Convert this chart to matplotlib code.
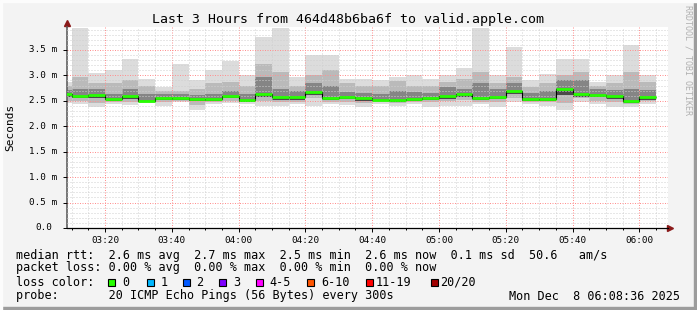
import numpy as np
import pandas as pd
import matplotlib
matplotlib.use("Agg")
import matplotlib.pyplot as plt
from matplotlib.ticker import FixedLocator, MultipleLocator, NullFormatter
from matplotlib.patches import Rectangle

# 5 minute steps, each value belongs to the step ending at that time
step_end = pd.date_range("2025-12-08 03:10", "2025-12-08 06:05", freq="5min")

# round trip times in ms
rtt_max = [2.87, 3.93, 3.04, 3.10, 3.33, 2.93, 2.77, 3.22, 2.91, 3.10, 3.28, 3.01,
           3.75, 3.93, 2.97, 3.40, 3.40, 2.93, 2.93, 2.90, 2.97, 3.01, 2.93, 3.01,
           3.14, 3.93, 3.00, 3.56, 2.90, 3.02, 3.33, 3.33, 2.87, 3.01, 3.60, 3.00]
rtt_p90 = [2.80, 2.97, 2.84, 2.84, 2.90, 2.80, 2.70, 2.70, 2.74, 2.84, 2.87, 2.80,
           3.23, 3.06, 2.80, 3.00, 3.10, 2.84, 2.80, 2.80, 2.88, 2.80, 2.80, 2.87,
           2.93, 3.06, 2.84, 2.97, 2.77, 2.84, 3.00, 3.06, 2.80, 2.84, 3.06, 2.87]
rtt_q75 = [2.72, 2.74, 2.74, 2.64, 2.74, 2.64, 2.64, 2.64, 2.62, 2.64, 2.70, 2.64,
           2.97, 2.74, 2.70, 2.84, 2.80, 2.68, 2.66, 2.64, 2.70, 2.68, 2.66, 2.77,
           2.74, 2.84, 2.74, 2.84, 2.66, 2.70, 2.90, 2.90, 2.74, 2.72, 2.74, 2.72]
rtt_median = [2.63, 2.60, 2.61, 2.54, 2.59, 2.50, 2.55, 2.55, 2.54, 2.54, 2.60, 2.51,
              2.63, 2.57, 2.57, 2.67, 2.55, 2.57, 2.55, 2.52, 2.52, 2.54, 2.55, 2.59,
              2.63, 2.55, 2.58, 2.70, 2.54, 2.54, 2.74, 2.64, 2.62, 2.59, 2.49, 2.57]
rtt_q25 = [2.58, 2.55, 2.56, 2.50, 2.54, 2.47, 2.51, 2.51, 2.49, 2.50, 2.55, 2.48,
           2.57, 2.52, 2.52, 2.62, 2.51, 2.53, 2.50, 2.49, 2.48, 2.50, 2.51, 2.54,
           2.58, 2.51, 2.53, 2.63, 2.50, 2.49, 2.62, 2.58, 2.57, 2.54, 2.45, 2.52]
rtt_p10 = [2.50, 2.50, 2.45, 2.48, 2.48, 2.47, 2.47, 2.50, 2.42, 2.48, 2.50, 2.47,
           2.50, 2.48, 2.48, 2.55, 2.48, 2.48, 2.46, 2.47, 2.46, 2.48, 2.47, 2.50,
           2.52, 2.48, 2.47, 2.55, 2.48, 2.47, 2.45, 2.55, 2.50, 2.47, 2.44, 2.50]
rtt_min = [2.45, 2.44, 2.37, 2.44, 2.42, 2.45, 2.40, 2.47, 2.32, 2.44, 2.45, 2.44,
           2.40, 2.40, 2.44, 2.40, 2.44, 2.42, 2.37, 2.44, 2.40, 2.44, 2.37, 2.40,
           2.40, 2.44, 2.37, 2.47, 2.44, 2.40, 2.32, 2.47, 2.44, 2.37, 2.37, 2.44]

xtick_labels = ["03:20", "03:40", "04:00", "04:20", "04:40", "05:00", "05:20", "05:40", "06:00"]
ytick_values = [0.0, 0.5, 1.0, 1.5, 2.0, 2.5, 3.0, 3.5]
ytick_labels = ["0.0", "0.5 m", "1.0 m", "1.5 m", "2.0 m", "2.5 m", "3.0 m", "3.5 m"]

loss_labels = ["0", "1", "2", "3", "4-5", "6-10", "11-19", "20/20"]
loss_colors = ["#26ff00", "#00b8ff", "#0059ff", "#7e00ff", "#ff00ff", "#ff5500", "#ff0000", "#a10000"]

stats_rtt = "median rtt:  2.6 ms avg  2.7 ms max  2.5 ms min  2.6 ms now  0.1 ms sd  50.6   am/s"
stats_loss = "packet loss: 0.00 % avg  0.00 % max  0.00 % min  0.00 % now"
probe = "probe:       20 ICMP Echo Pings (56 Bytes) every 300s"
stamp = "Mon Dec  8 06:08:36 2025"
title = "Last 3 Hours from 464d48b6ba6f to valid.apple.com"

W, H = 697, 310
mono = "DejaVu Sans Mono"
plt.rcParams["font.family"] = mono


def fx(x):
    return x / W


def fy(y):
    return 1 - y / H


minutes = step_end.hour * 60 + step_end.minute
edges = np.concatenate([[minutes[0] - 5], minutes]).astype(float)
t_now = 6 * 60 + 8 + 36 / 60
t_start = t_now - 180

fig = plt.figure(figsize=(W / 100, H / 100), dpi=100, facecolor="#f3f3f3")
ax = fig.add_axes([fx(67), fy(228), fx(668) - fx(67), (228 - 27) / H])
ax.set_facecolor("white")

# smoke, light outside to dark near the median
ax.stairs(rtt_max, edges, baseline=rtt_min, fill=True, color="#dcdcdc", lw=0)
ax.stairs(rtt_p90, edges, baseline=rtt_p10, fill=True, color="#bababa", lw=0)
ax.stairs(rtt_q75, edges, baseline=rtt_q25, fill=True, color="#858585", lw=0)
ax.stairs(rtt_median, edges, baseline=rtt_q25, fill=True, color="#4a4a4a", lw=0)

# median
ax.stairs(rtt_median, edges, baseline=None, color="black", lw=0.8, zorder=3)
ax.hlines(rtt_median, edges[:-1], edges[1:], color=loss_colors[0], lw=2.0, zorder=4)

ax.set_xlim(t_start, t_now)
ax.set_ylim(0, 3.95)

ax.xaxis.set_minor_locator(MultipleLocator(5))
ax.set_xticks(np.arange(200, 361, 20))
ax.set_xticklabels(xtick_labels, fontsize=6.7)
ax.yaxis.set_major_locator(FixedLocator(ytick_values))
ax.yaxis.set_minor_locator(MultipleLocator(0.1))
ax.yaxis.set_major_formatter(NullFormatter())
for v, lab in zip(ytick_values, ytick_labels):
    ax.text(-23.5 / 601, v, lab, transform=ax.get_yaxis_transform(),
            ha="center", va="center", fontsize=6.7)

ax.set_axisbelow(False)
ax.grid(which="minor", color="#d0d0d0", lw=0.72, ls=(0, (1, 2)))
ax.grid(which="major", color="#ff9090", lw=0.72, ls=(0, (1, 1.5)))
ax.tick_params(which="major", length=3, width=0.7, pad=3, color="black")
ax.tick_params(which="minor", length=1.5, width=0.7, color="black")
ax.tick_params(axis="y", which="minor", length=0)
for s in ["top", "right"]:
    ax.spines[s].set_visible(False)
ax.spines["left"].set_color("#606060")
ax.spines["left"].set_linewidth(1.2)
ax.spines["bottom"].set_color("black")
ax.spines["bottom"].set_linewidth(0.9)
ax.plot([0, 0], [1, 1 + 4 / 201], color="#606060", lw=1.2, transform=ax.transAxes, clip_on=False)
ax.plot([0], [1 + 4 / 201], marker="^", ms=4, color="#8b1a1a", transform=ax.transAxes, clip_on=False)
ax.plot([1 + 2 / 601], [0], marker=">", ms=4, color="#8b1a1a", transform=ax.transAxes, clip_on=False)

fig.text(fx(10), fy(127), "Seconds", rotation=90, ha="center", va="center", fontsize=8)
fig.text(0.5, fy(19), title, ha="center", va="center", fontsize=9.5)
fig.text(fx(688), fy(60), "RRDTOOL / TOBI OETIKER", rotation=-90, ha="center", va="center",
         fontsize=6, color="#b0b0b0")

fig.text(fx(16), fy(255), stats_rtt, ha="left", va="center", fontsize=8.5)
fig.text(fx(16), fy(268), stats_loss, ha="left", va="center", fontsize=8.5)
fig.text(fx(16), fy(282), "loss color:", ha="left", va="center", fontsize=8.5)
box_x = [108, 147, 183, 219, 256, 307, 366, 431]
label_x = [122, 161, 196, 233, 269, 321, 376, 440]
for bx, lx, lab, col in zip(box_x, label_x, loss_labels, loss_colors):
    fig.patches.append(Rectangle((fx(bx), fy(286)), 7 / W, 7 / H, transform=fig.transFigure,
                                 facecolor=col, edgecolor="black", lw=0.8))
    fig.text(fx(lx), fy(282), lab, ha="left", va="center", fontsize=8.5)
fig.text(fx(16), fy(296), probe, ha="left", va="center", fontsize=8.5)
fig.text(fx(680), fy(296), stamp, ha="right", va="center", fontsize=8.5)

# 3d frame
fig.patches.append(Rectangle((fx(694), 0), 3 / W, 1, transform=fig.transFigure, color="#9c9c9c"))
fig.patches.append(Rectangle((0, 0), 1, 3 / H, transform=fig.transFigure, color="#9c9c9c"))
fig.patches.append(Rectangle((0, 0), 2 / W, 1, transform=fig.transFigure, color="#fcfcfc"))
fig.patches.append(Rectangle((0, fy(2)), 1, 2 / H, transform=fig.transFigure, color="#fcfcfc"))

fig.savefig("out.png", dpi=100, facecolor=fig.get_facecolor())
